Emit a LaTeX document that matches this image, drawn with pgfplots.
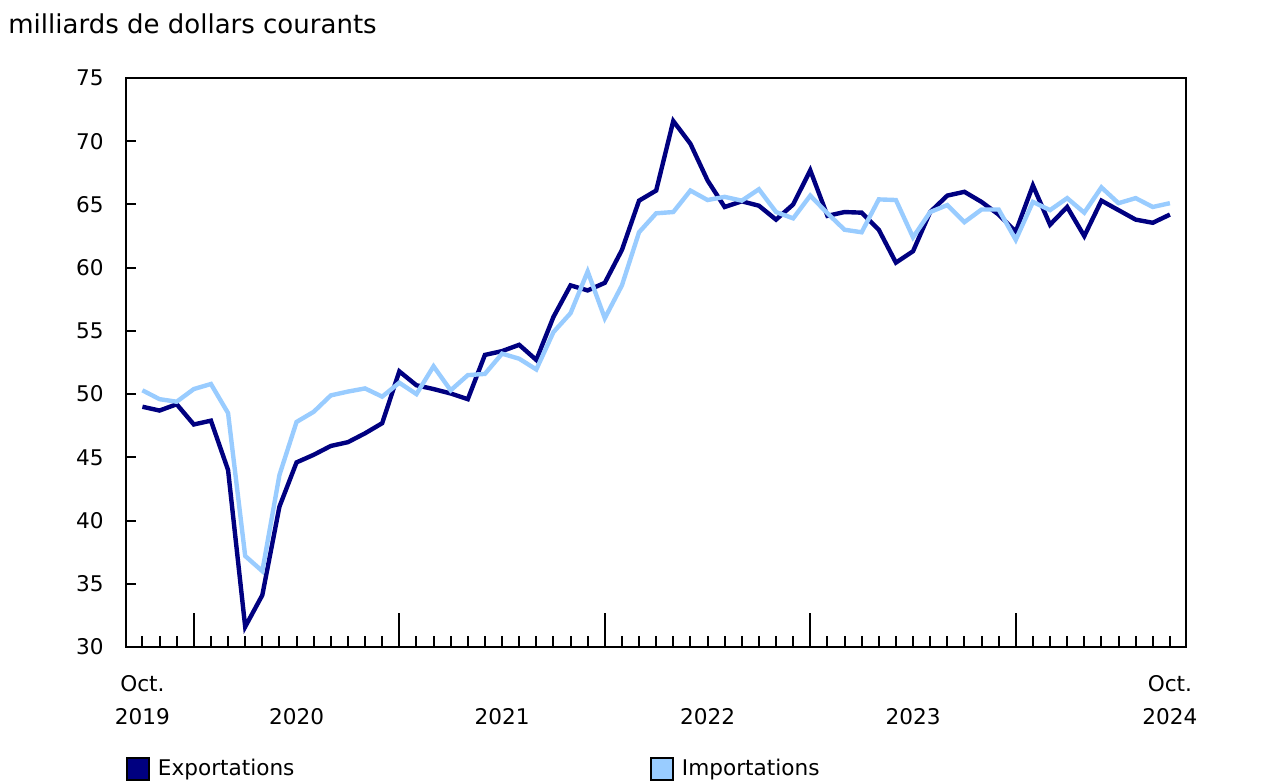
\documentclass[border=0pt]{standalone}
\usepackage{fontspec}
\setmainfont{DejaVu Sans}
\usepackage{pgfplots}
\pgfplotsset{compat=1.18}
\definecolor{expc}{HTML}{000080}
\definecolor{impc}{HTML}{99CCFF}
\pgfplotstableread{
i exp imp
0 49.0 50.3
1 48.7 49.6
2 49.2 49.4
3 47.6 50.4
4 47.9 50.8
5 44.0 48.5
6 31.6 37.2
7 34.1 36.0
8 41.1 43.6
9 44.6 47.8
10 45.2 48.6
11 45.9 49.9
12 46.2 50.2
13 46.9 50.45
14 47.7 49.8
15 51.8 50.9
16 50.7 50.0
17 50.4 52.2
18 50.05 50.3
19 49.6 51.5
20 53.1 51.6
21 53.4 53.2
22 53.9 52.8
23 52.7 51.95
24 56.1 54.9
25 58.6 56.4
26 58.2 59.7
27 58.8 56.0
28 61.4 58.6
29 65.3 62.8
30 66.1 64.3
31 71.6 64.4
32 69.8 66.1
33 66.9 65.35
34 64.8 65.6
35 65.25 65.3
36 64.9 66.2
37 63.8 64.4
38 65.0 63.9
39 67.7 65.7
40 64.1 64.3
41 64.4 63.0
42 64.35 62.8
43 63.0 65.4
44 60.4 65.35
45 61.3 62.4
46 64.4 64.4
47 65.7 64.95
48 66.0 63.6
49 65.2 64.6
50 64.2 64.6
51 62.85 62.2
52 66.5 65.2
53 63.4 64.55
54 64.8 65.5
55 62.5 64.35
56 65.3 66.35
57 64.55 65.1
58 63.8 65.5
59 63.55 64.8
60 64.2 65.1
}\datatable
\begin{document}
\begin{tikzpicture}
\useasboundingbox (-63pt,-68pt) rectangle (575pt,323.5pt);
\begin{axis}[
  at={(0,0)}, anchor=south west,
  scale only axis, width=530pt, height=284.5pt,
  xmin=-0.96, xmax=60.94, ymin=30, ymax=75,
  clip=false,
  axis line style={line width=1pt, black},
  tick align=inside,
  xtick pos=lower, ytick pos=left,
  xtick={3,15,27,39,51},
  xticklabels={},
  minor xtick={0,1,2,4,5,6,7,8,9,10,11,12,13,14,16,17,18,19,20,21,22,23,24,25,26,28,29,30,31,32,33,34,35,36,37,38,40,41,42,43,44,45,46,47,48,49,50,52,53,54,55,56,57,58,59,60},
  ytick={30,35,...,75},
  xtick style={/pgfplots/major tick length=17pt, /pgfplots/minor tick length=5.5pt, line width=1pt, black},
  ytick style={/pgfplots/major tick length=5pt, line width=1pt, black},
  /pgf/number format/assume math mode=true,
  yticklabel style={font=\fontsize{10.8}{13}\selectfont, inner sep=0pt, xshift=-11pt, anchor=east},
  legend columns=2,
  legend style={at={(rel axis cs:0,0)}, anchor=north west, yshift=-54pt, draw=none, fill=none, inner sep=0pt,
    font=\fontsize{10.8}{13}\selectfont,
    /tikz/every odd column/.append style={column sep=2pt},
    /tikz/every even column/.append style={column sep=176pt}},
  legend cell align=left,
]
\addplot[expc, line width=2.2pt, line join=miter, legend image code/.code={\draw[line width=0.75pt, draw=black, fill=expc] (0pt,-5.5pt) rectangle (11pt,5.5pt);}] table[x=i, y=exp] {\datatable};
\addlegendentry{Exportations}
\addplot[impc, line width=2.2pt, line join=miter, legend image code/.code={\draw[line width=0.75pt, draw=black, fill=impc] (0pt,-5.5pt) rectangle (11pt,5.5pt);}] table[x=i, y=imp] {\datatable};
\addlegendentry{Importations}
\begin{scope}[every node/.style={font=\fontsize{10.8}{13}\selectfont}]
\node at (axis cs:0,30) [yshift=-18.5pt] {Oct.};
\node at (axis cs:0,30) [yshift=-35pt] {2019};
\node at (axis cs:9,30) [yshift=-35pt] {2020};
\node at (axis cs:21,30) [yshift=-35pt] {2021};
\node at (axis cs:33,30) [yshift=-35pt] {2022};
\node at (axis cs:45,30) [yshift=-35pt] {2023};
\node at (axis cs:60,30) [yshift=-18.5pt] {Oct.};
\node at (axis cs:60,30) [yshift=-35pt] {2024};
\end{scope}
\end{axis}
\node[anchor=west, font=\fontsize{13}{15.5}\selectfont, inner sep=0pt] at (-59pt,311.5pt) {milliards de dollars courants};
\end{tikzpicture}
\end{document}
